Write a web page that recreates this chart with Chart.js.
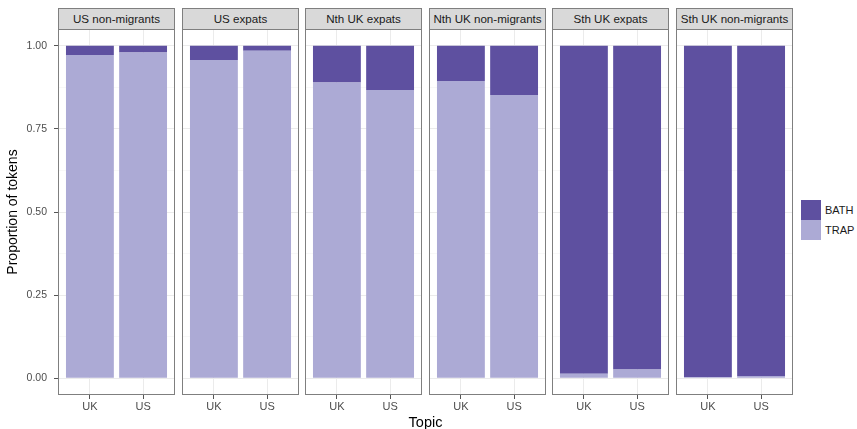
<!DOCTYPE html>
<html>
<head>
<meta charset="utf-8">
<script src="https://cdn.jsdelivr.net/npm/chart.js@4/dist/chart.umd.min.js"></script>
<style>
  html, body { margin: 0; padding: 0; background: #fff; }
  #wrap { position: relative; width: 857px; height: 429px; overflow: hidden;
          font-family: "Liberation Sans", Arial, sans-serif; }
  canvas { position: absolute; }
  .strip { position: absolute; box-sizing: border-box; background: #d9d9d9;
           border: 1px solid #7f7f7f; color: #1a1a1a; font-size: 11.6px;
           text-align: center; line-height: 20px; white-space: nowrap; }
  .axis-title { position: absolute; color: #000; font-size: 14.5px; line-height: 17px; }
  .key { position: absolute; width: 20px; height: 20px; }
  .key-label { position: absolute; font-size: 11px; color: #1a1a1a; line-height: 20px; }
</style>
</head>
<body>
<div id="wrap"></div>
<script>
// Groups shown in each facet, left to right
const facets = ['US non-migrants', 'US expats', 'Nth UK expats', 'Nth UK non-migrants', 'Sth UK expats', 'Sth UK non-migrants'];
// Topic categories on each facet's x axis
const categories = ['UK', 'US'];
// Proportion of TRAP tokens per facet, for topic UK and topic US
const trapUK = [0.972, 0.957, 0.889, 0.894, 0.014, 0.003];
const trapUS = [0.979, 0.985, 0.867, 0.852, 0.027, 0.007];
// Proportion of BATH tokens per facet, for topic UK and topic US
const bathUK = [0.028, 0.043, 0.111, 0.106, 0.986, 0.997];
const bathUS = [0.021, 0.015, 0.133, 0.148, 0.973, 0.993];
// y axis breaks
const yMajor = [0, 0.25, 0.5, 0.75, 1];
const yMajorLabels = ['0.00', '0.25', '0.50', '0.75', '1.00'];
const yMinor = [0.125, 0.375, 0.625, 0.875];
const seriesNames = ['BATH', 'TRAP'];

const COLORS = { BATH: '#5e50a0', TRAP: '#acaad5' };
const GRID_MAJOR = '#ebebeb';
const GRID_MINOR = '#f3f3f3';
const BORDER = '#7f7f7f';
const TICK = '#555555';

Chart.defaults.font.family = '"Liberation Sans", Arial, sans-serif';
Chart.defaults.font.size = 11;
Chart.defaults.color = '#4d4d4d';

const wrap = document.getElementById('wrap');

// panel geometry
const panelLefts = [58, 182, 305, 429, 552, 676];
const panelWidth = 117;
const canvasTop = 26;
const canvasHeight = 403;
const padTop = 3;
const plotHeight = 366;
const xAxisHeight = canvasHeight - padTop - plotHeight;
const yAxisWidth = 58;
const sidePad = 3;

const panelBorder = {
  id: 'panelBorder',
  afterDraw(chart) {
    const a = chart.chartArea;
    const ctx = chart.ctx;
    ctx.save();
    ctx.strokeStyle = BORDER;
    ctx.lineWidth = 1;
    ctx.strokeRect(a.left + 0.5, a.top + 0.5, a.right - a.left - 1, a.bottom - a.top - 1);
    ctx.restore();
  }
};

const isMajor = v => yMajor.some(m => Math.abs(m - v) < 1e-9);

facets.forEach((name, i) => {
  const first = i === 0;
  const left = panelLefts[i];

  // strip label
  const strip = document.createElement('div');
  strip.className = 'strip';
  strip.style.left = left + 'px';
  strip.style.top = '8px';
  strip.style.width = panelWidth + 'px';
  strip.style.height = '22px';
  strip.textContent = name;
  wrap.appendChild(strip);

  const canvas = document.createElement('canvas');
  const cLeft = first ? 0 : left - sidePad;
  const cWidth = first ? left + panelWidth + sidePad : panelWidth + 2 * sidePad;
  canvas.width = cWidth;
  canvas.height = canvasHeight;
  canvas.style.left = cLeft + 'px';
  canvas.style.top = canvasTop + 'px';
  canvas.style.width = cWidth + 'px';
  canvas.style.height = canvasHeight + 'px';
  wrap.appendChild(canvas);

  const trap = [trapUK[i], trapUS[i]];
  const bath = [bathUK[i], bathUS[i]];

  new Chart(canvas, {
    type: 'bar',
    data: {
      datasets: [
        { label: 'TRAP', data: categories.map((c, j) => ({ x: j + 1, y: trap[j] })),
          backgroundColor: COLORS.TRAP, borderWidth: 0 },
        { label: 'BATH', data: categories.map((c, j) => ({ x: j + 1, y: bath[j] })),
          backgroundColor: COLORS.BATH, borderWidth: 0 }
      ]
    },
    options: {
      responsive: false,
      maintainAspectRatio: false,
      animation: false,
      devicePixelRatio: 1,
      layout: { padding: { left: first ? 0 : sidePad, right: sidePad, top: padTop, bottom: 0 } },
      datasets: { bar: { barPercentage: 0.9, categoryPercentage: 1 } },
      plugins: { legend: { display: false }, tooltip: { enabled: false } },
      scales: {
        x: {
          type: 'linear',
          stacked: true,
          min: 0.4,
          max: 2.6,
          offset: false,
          afterBuildTicks: s => { s.ticks = categories.map((c, j) => ({ value: j + 1 })); },
          afterFit: s => { s.height = xAxisHeight; s.paddingLeft = 0; s.paddingRight = 0; },
          ticks: {
            callback: v => categories[v - 1],
            padding: 1,
            color: '#4d4d4d',
            font: { size: 11 },
            maxRotation: 0
          },
          grid: {
            offset: false,
            color: GRID_MAJOR,
            lineWidth: 1,
            tickColor: TICK,
            tickLength: 4
          },
          border: { display: false }
        },
        y: {
          stacked: true,
          min: -0.05,
          max: 1.05,
          afterBuildTicks: s => {
            s.ticks = yMajor.concat(yMinor).sort((a, b) => a - b).map(v => ({ value: v }));
          },
          afterFit: s => {
            s.width = first ? yAxisWidth : 0;
            s.paddingTop = 0;
            s.paddingBottom = 0;
          },
          ticks: {
            display: first,
            autoSkip: false,
            padding: 7,
            color: '#4d4d4d',
            font: { size: 10.5 },
            callback: v => {
              const k = yMajor.findIndex(m => Math.abs(m - v) < 1e-9);
              return k >= 0 ? yMajorLabels[k] : '';
            }
          },
          grid: {
            drawTicks: first,
            tickLength: 4,
            color: c => isMajor(c.tick.value) ? GRID_MAJOR : GRID_MINOR,
            lineWidth: c => isMajor(c.tick.value) ? 1 : 0.6,
            tickColor: c => isMajor(c.tick.value) ? TICK : 'rgba(0,0,0,0)'
          },
          border: { display: false },
          title: {
            display: first,
            text: 'Proportion of tokens',
            color: '#000',
            font: { size: 14 },
            padding: { top: 5, bottom: 0 }
          }
        }
      }
    },
    plugins: [panelBorder]
  });
});

// x axis title shared by all facets
const xTitle = document.createElement('div');
xTitle.className = 'axis-title';
xTitle.textContent = 'Topic';
xTitle.style.left = '58px';
xTitle.style.width = (panelLefts[5] + panelWidth - 58) + 'px';
xTitle.style.textAlign = 'center';
xTitle.style.top = '414px';
wrap.appendChild(xTitle);

// legend
seriesNames.forEach((s, k) => {
  const key = document.createElement('div');
  key.className = 'key';
  key.style.left = '801px';
  key.style.top = (200 + k * 20) + 'px';
  key.style.background = COLORS[s];
  wrap.appendChild(key);
  const lab = document.createElement('div');
  lab.className = 'key-label';
  lab.style.left = '825px';
  lab.style.top = (200 + k * 20) + 'px';
  lab.textContent = s;
  wrap.appendChild(lab);
});
</script>
</body>
</html>
